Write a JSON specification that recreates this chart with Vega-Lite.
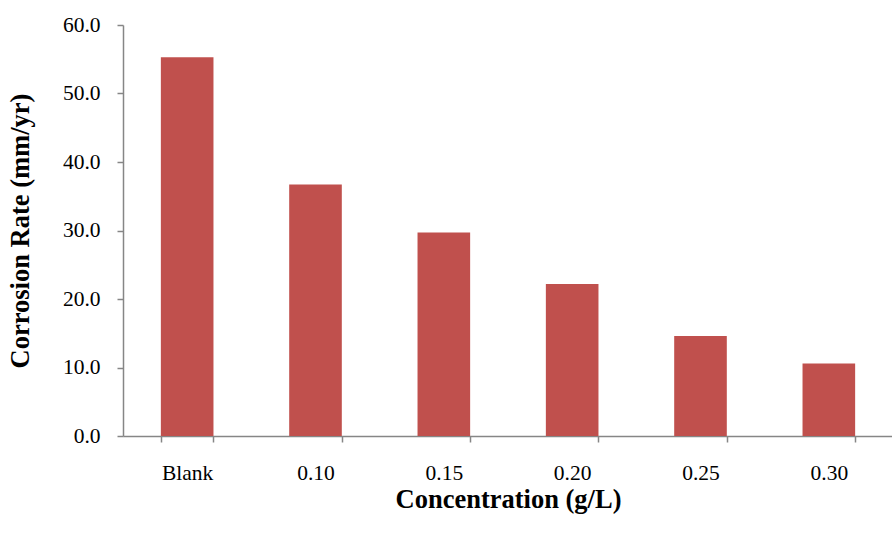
{
  "$schema": "https://vega.github.io/schema/vega-lite/v6.json",
  "width": 770,
  "height": 411,
  "autosize": {"type": "none"},
  "padding": {"left": 123, "top": 25, "right": 0, "bottom": 100},
  "background": "white",
  "config": {
    "view": {"stroke": null},
    "font": "Liberation Serif"
  },
  "data": {
    "values": [
      {"conc": "Blank", "rate": 55.3},
      {"conc": "0.10", "rate": 36.7},
      {"conc": "0.15", "rate": 29.7},
      {"conc": "0.20", "rate": 22.2},
      {"conc": "0.25", "rate": 14.6},
      {"conc": "0.30", "rate": 10.6}
    ]
  },
  "mark": {"type": "bar", "color": "#C0504D"},
  "encoding": {
    "x": {
      "field": "conc",
      "type": "nominal",
      "sort": null,
      "scale": {"paddingInner": 0.59, "paddingOuter": 0.295},
      "axis": {
        "title": "Concentration (g/L)",
        "titleFont": "Liberation Serif",
        "titleFontSize": 26.5,
        "titleFontWeight": "bold",
        "titleColor": "black",
        "titlePadding": 3,
        "labelFont": "Liberation Serif",
        "labelFontSize": 21.5,
        "labelColor": "black",
        "labelAngle": 0,
        "labelPadding": 20,
        "tickBand": "extent",
        "tickSize": 6,
        "tickColor": "#868686",
        "domainColor": "#868686",
        "domainWidth": 1.5,
        "tickWidth": 1.5
      }
    },
    "y": {
      "field": "rate",
      "type": "quantitative",
      "scale": {"domain": [0, 60]},
      "axis": {
        "title": "Corrosion Rate (mm/yr)",
        "titleFont": "Liberation Serif",
        "titleFontSize": 26.5,
        "titleFontWeight": "bold",
        "titleColor": "black",
        "titlePadding": 28,
        "labelFont": "Liberation Serif",
        "labelFontSize": 21.5,
        "labelColor": "black",
        "labelPadding": 17,
        "format": ".1f",
        "values": [0, 10, 20, 30, 40, 50, 60],
        "grid": false,
        "tickSize": 6,
        "tickColor": "#868686",
        "domainColor": "#868686",
        "domainWidth": 1.5,
        "tickWidth": 1.5
      }
    }
  }
}
